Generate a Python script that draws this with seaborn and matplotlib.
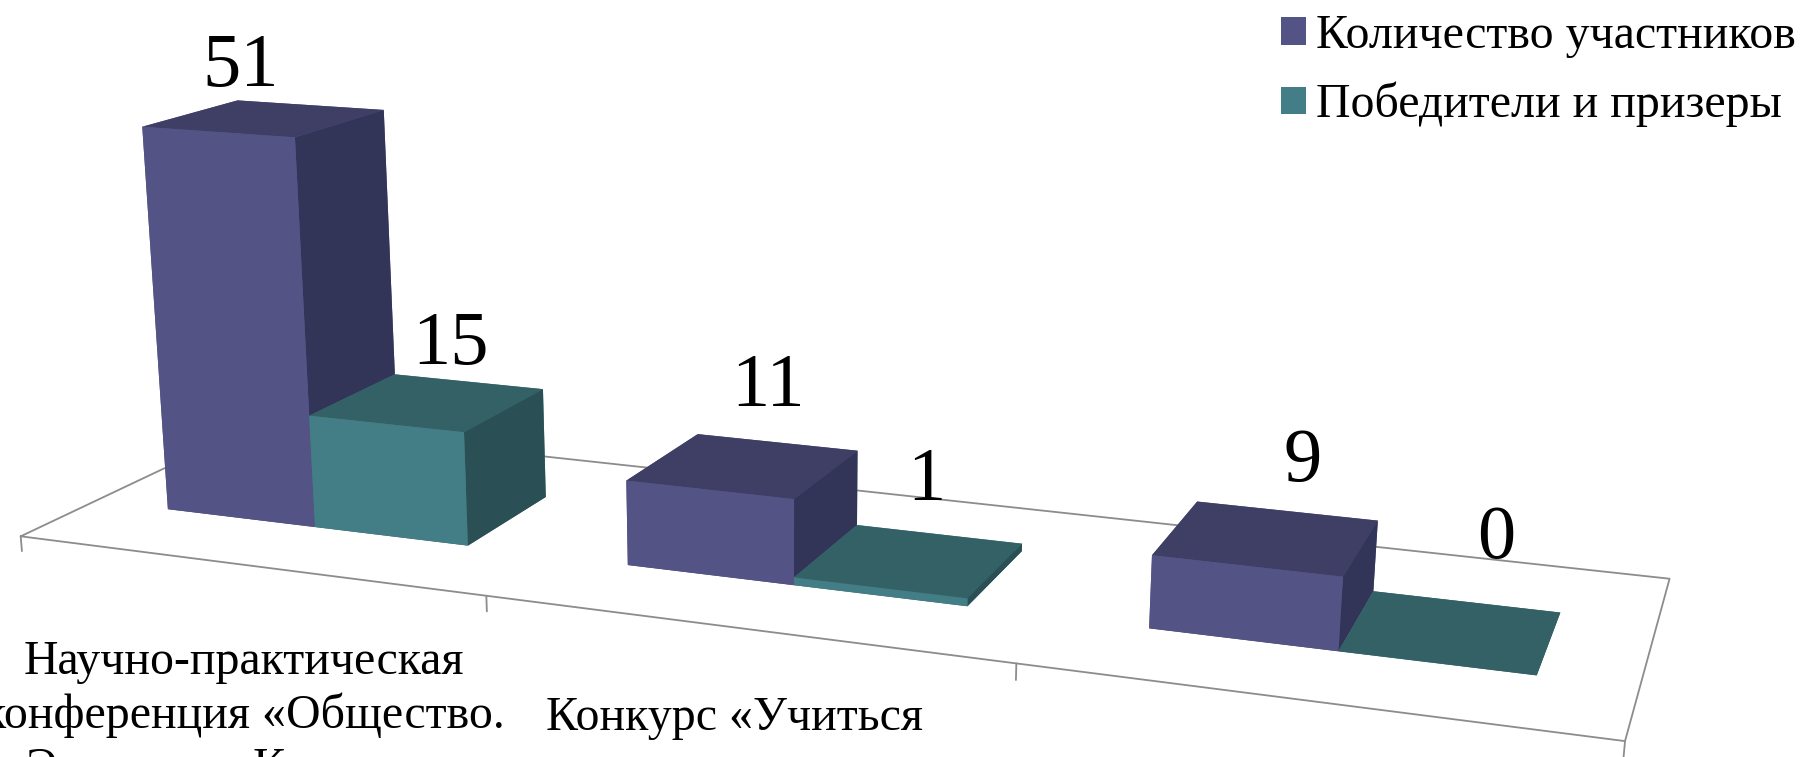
# -*- coding: utf-8 -*-
import matplotlib
matplotlib.use('Agg')
import matplotlib.pyplot as plt
from matplotlib.patches import Patch
import seaborn as sns

categories = [
    'Научно-практическая\nконференция «Общество.\nЭкология.  Культура»',
    'Конкурс «Учиться\nрядом»',
    '',
]
participants = [51, 11, 9]
winners = [15, 1, 0]
series_names = ['Количество участников', 'Победители и призеры']

sns.set_theme(style='white')
plt.rcParams['font.family'] = ['Liberation Serif', 'DejaVu Serif']

W, H = 1807, 757
side = 1900.2  # the 3d axes box is always square, it hangs off the figure on purpose
left, bottom = -169.5, -731.1

# colours: front, top, right side of each block
purple = sns.color_palette(['#545386', '#3f3f66', '#333558'])
teal = sns.color_palette(['#437d85', '#336166', '#2a5056'])

fig = plt.figure(figsize=(W / 100, H / 100), dpi=100)
ax = fig.add_subplot(projection='3d', computed_zorder=False)
ax.set_position([left / W, bottom / H, side / W, side / H])
ax.view_init(elev=17.13, azim=-69.464, roll=-0.10)
ax.set_proj_type('persp', focal_length=0.2785)
ax.set_box_aspect((1, 0.2887, 0.2999), zoom=1)
ax.set_axis_off()

gap = 0.167
width = 0.5 - gap
front, depth = 0.2939, 0.3972


def block(x, value, cols, order):
    # bottom, top, front, back, left, right
    faces = [cols[1], cols[1], cols[0], cols[0], cols[0], cols[2]]
    c = ax.bar3d(x, front, 0, width, depth, value, color=faces, shade=False, linewidth=0, zorder=order)
    c.set_clip_on(False)


# floor and ticks
line = dict(color='#8c8c8c', lw=1.3, clip_on=False, zorder=1)
n = len(categories)
ax.plot([0, n, n, 0, 0], [0, 0, 1, 1, 0], [0, 0, 0, 0, 0], **line)
for i in range(n + 1):
    ax.plot([i, i], [0, 0], [0, -2], **line)

for i in range(n):
    block(i + gap, participants[i], purple, 2 + 2 * i)
    block(i + 0.5, winners[i], teal, 3 + 2 * i)

# data labels sit a bit above the block, the chart nudges them one by one
label_dx = [[-0.05, 0.052], [0.05, 0.03], [0.058, 0.066]]
label_dz = [[4, 5.5], [8, 8], [7.4, 9.5]]
for i in range(n):
    for j, v in enumerate([participants[i], winners[i]]):
        xc = i + gap + width * (j + 0.5) + label_dx[i][j]
        ax.text(xc, front + depth / 2, v + label_dz[i][j], str(v), fontsize=55,
                ha='center', va='baseline', color='black', zorder=20)

tick_dz = [-10, -8.6, -9]
for i, name in enumerate(categories):
    ax.text(i + 0.485, 0, tick_dz[i], name, fontsize=34.5, ha='center', va='top',
            linespacing=1.25, color='black', zorder=20)

handles = [Patch(color=purple[0], lw=0), Patch(color=teal[0], lw=0)]
fig.legend(handles, series_names, loc='upper right', bbox_to_anchor=(1796 / W, 1 - 14 / H),
           frameon=False, fontsize=34.5, labelcolor='black', handlelength=0.52, handleheight=0.52,
           handletextpad=0.22, labelspacing=0.5, borderpad=0, borderaxespad=0)

ax.set_xlim(0.1738, 3.1738)
ax.set_ylim(-0.6685, 0.3315)
ax.set_zlim(-11.7064, 48.2936)

fig.savefig('out.png', dpi=100)
